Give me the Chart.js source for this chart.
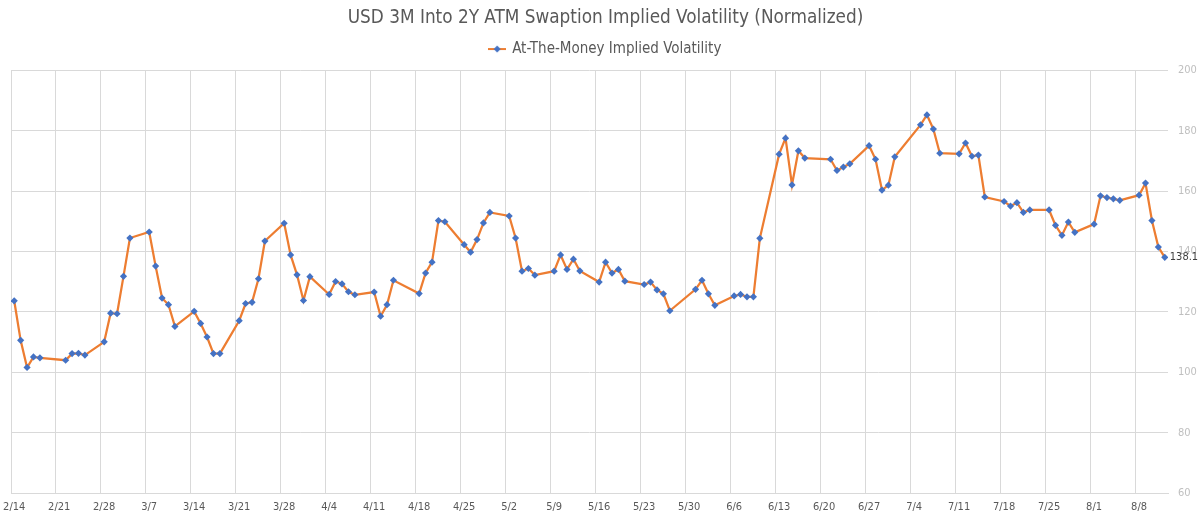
<!DOCTYPE html>
<html>
<head>
<meta charset="utf-8">
<script src="https://cdn.jsdelivr.net/npm/chart.js@4/dist/chart.umd.min.js"></script>
<style>
  html, body { margin: 0; padding: 0; background: #fff; }
  #wrap { width: 1200px; height: 517px; }
</style>
</head>
<body>
<div id="wrap"><canvas id="volChart" width="1200" height="517"></canvas></div>
<script>
// trading days (2022) and the normalized ATM implied vol for each
const dates = [
  '2/14','2/15','2/16','2/17','2/18','2/22','2/23','2/24','2/25','2/28',
  '3/1','3/2','3/3','3/4','3/7','3/8','3/9','3/10','3/11','3/14',
  '3/15','3/16','3/17','3/18','3/21','3/22','3/23','3/24','3/25','3/28',
  '3/29','3/30','3/31','4/1','4/4','4/5','4/6','4/7','4/8','4/11',
  '4/12','4/13','4/14','4/18','4/19','4/20','4/21','4/22','4/25','4/26',
  '4/27','4/28','4/29','5/2','5/3','5/4','5/5','5/6','5/9','5/10',
  '5/11','5/12','5/13','5/16','5/17','5/18','5/19','5/20','5/23','5/24',
  '5/25','5/26','5/27','5/31','6/1','6/2','6/3','6/6','6/7','6/8',
  '6/9','6/10','6/13','6/14','6/15','6/16','6/17','6/21','6/22','6/23',
  '6/24','6/27','6/28','6/29','6/30','7/1','7/5','7/6','7/7','7/8',
  '7/11','7/12','7/13','7/14','7/15','7/18','7/19','7/20','7/21','7/22',
  '7/25','7/26','7/27','7/28','7/29','8/1','8/2','8/3','8/4','8/5',
  '8/8','8/9','8/10','8/11','8/12'
];
const atmVol = [
  123.7, 110.6, 101.6, 105.1, 104.8, 104.0, 106.2, 106.3, 105.7, 110.1,
  119.6, 119.4, 131.8, 144.5, 146.5, 135.2, 124.6, 122.4, 115.2, 120.2,
  116.2, 111.7, 106.2, 106.2, 117.1, 122.8, 123.2, 131.0, 143.5, 149.4,
  138.9, 132.3, 123.8, 131.7, 125.8, 130.1, 129.3, 126.7, 125.7, 126.6,
  118.6, 122.4, 130.5, 126.1, 132.9, 136.5, 150.3, 149.9, 142.3, 139.8,
  144.0, 149.5, 153.0, 151.8, 144.5, 133.5, 134.4, 132.2, 133.5, 138.9,
  134.1, 137.5, 133.6, 129.9, 136.5, 132.9, 134.1, 130.2, 129.1, 129.9,
  127.3, 126.0, 120.4, 127.5, 130.5, 126.0, 122.2, 125.3, 125.8, 125.0,
  125.0, 144.4, 172.3, 177.6, 162.1, 173.4, 171.0, 170.6, 166.9, 168.0,
  169.1, 175.1, 170.6, 160.4, 162.0, 171.4, 182.0, 185.3, 180.6, 172.6,
  172.4, 176.0, 171.6, 172.0, 158.1, 156.6, 155.1, 156.2, 153.0, 153.8,
  153.8, 148.7, 145.4, 149.8, 146.4, 149.1, 158.5, 157.9, 157.5, 157.0,
  158.7, 162.7, 150.3, 141.5, 138.1
];
const xTickLabels = ['2/14','2/21','2/28','3/7','3/14','3/21','3/28','4/4','4/11','4/18','4/25',
  '5/2','5/9','5/16','5/23','5/30','6/6','6/13','6/20','6/27','7/4','7/11','7/18','7/25','8/1','8/8'];
const yMin = 60, yMax = 200, yStep = 20;
const lastDay = '8/13';

const YEAR = 2022;
function dayIndex(md) {
    const [m, d] = md.split('/').map(Number);
    const start = Date.UTC(YEAR, 1, 14);
    return Math.round((Date.UTC(YEAR, m - 1, d) - start) / 86400000);
}
function dayLabel(idx) {
    const dt = new Date(Date.UTC(YEAR, 1, 14) + idx * 86400000);
    return (dt.getUTCMonth() + 1) + '/' + dt.getUTCDate();
}

const ORANGE = '#ED7D31';
const BLUE = '#4472C4';
const FONT = "'Liberation Sans Narrow', 'DejaVu Sans Condensed', sans-serif";

// points sit in the middle of their day slot
const points = dates.map((d, i) => ({ x: dayIndex(d) + 0.5, y: atmVol[i] }));

// legend swatch: orange line with blue diamond
const swatch = document.createElement('canvas');
swatch.width = 18; swatch.height = 10;
(function () {
    const c = swatch.getContext('2d');
    c.strokeStyle = ORANGE; c.lineWidth = 2;
    c.beginPath(); c.moveTo(0, 5); c.lineTo(18, 5); c.stroke();
    c.fillStyle = BLUE;
    c.beginPath(); c.moveTo(9, 1.5); c.lineTo(12.5, 5); c.lineTo(9, 8.5); c.lineTo(5.5, 5); c.closePath(); c.fill();
})();

const lastLabel = {
    id: 'lastLabel',
    afterDatasetsDraw(chart) {
        const meta = chart.getDatasetMeta(0);
        const el = meta.data[meta.data.length - 1];
        const ctx = chart.ctx;
        ctx.save();
        ctx.font = '11px ' + FONT;
        ctx.fillStyle = '#404040';
        ctx.textBaseline = 'middle';
        ctx.textAlign = 'left';
        ctx.fillText(atmVol[atmVol.length - 1].toFixed(1), el.x + 5, el.y);
        ctx.restore();
    }
};

const ctx = document.getElementById('volChart').getContext('2d');
new Chart(ctx, {
    type: 'line',
    data: {
        datasets: [{
            label: 'At-The-Money Implied Volatility',
            data: points,
            borderColor: ORANGE,
            borderWidth: 2.25,
            backgroundColor: BLUE,
            pointStyle: 'rectRot',
            pointRadius: 3.6,
            pointBackgroundColor: BLUE,
            pointBorderColor: BLUE,
            pointBorderWidth: 0,
            tension: 0
        }]
    },
    options: {
        responsive: false,
        animation: false,
        layout: { padding: { left: 11, right: 0, top: 0, bottom: 0 } },
        plugins: {
            title: {
                display: true,
                text: 'USD 3M Into 2Y ATM Swaption Implied Volatility (Normalized)',
                color: '#595959',
                font: { family: FONT, size: 18.8, weight: 'normal' },
                padding: { top: 7, bottom: 2 }
            },
            // empty spacer between legend and plot area
            subtitle: {
                display: true,
                text: '',
                weight: 500,
                font: { size: 2, lineHeight: 1 },
                padding: { top: 1, bottom: 1 }
            },
            legend: {
                display: true,
                labels: {
                    color: '#595959',
                    font: { family: FONT, size: 15 },
                    usePointStyle: true,
                    padding: 10,
                    generateLabels(chart) {
                        const items = Chart.defaults.plugins.legend.labels.generateLabels(chart);
                        items.forEach(it => { it.pointStyle = swatch; });
                        return items;
                    }
                }
            },
            tooltip: { enabled: false }
        },
        scales: {
            x: {
                type: 'linear',
                min: 0,
                max: dayIndex(lastDay),
                afterBuildTicks(scale) {
                    scale.ticks = xTickLabels.map(l => ({ value: dayIndex(l) }));
                },
                afterFit(scale) {
                    scale.height = 24;
                    scale.paddingLeft = 0;
                    scale.paddingRight = 0;
                },
                grid: { color: '#d9d9d9', drawTicks: false },
                border: { color: '#d9d9d9' },
                ticks: {
                    color: '#595959',
                    font: { family: FONT, size: 11 },
                    padding: 8,
                    labelOffset: 3.2,
                    maxRotation: 0,
                    autoSkip: false,
                    callback: v => dayLabel(v)
                }
            },
            y: {
                position: 'right',
                min: yMin,
                max: yMax,
                afterFit(scale) {
                    scale.width = 32;
                    scale.paddingTop = 0;
                    scale.paddingBottom = 0;
                },
                grid: { color: '#d9d9d9', drawTicks: false },
                border: { display: false },
                ticks: {
                    stepSize: yStep,
                    color: '#bfbfbf',
                    font: { family: FONT, size: 11 },
                    padding: 10
                }
            }
        }
    },
    plugins: [lastLabel]
});
</script>
</body>
</html>
